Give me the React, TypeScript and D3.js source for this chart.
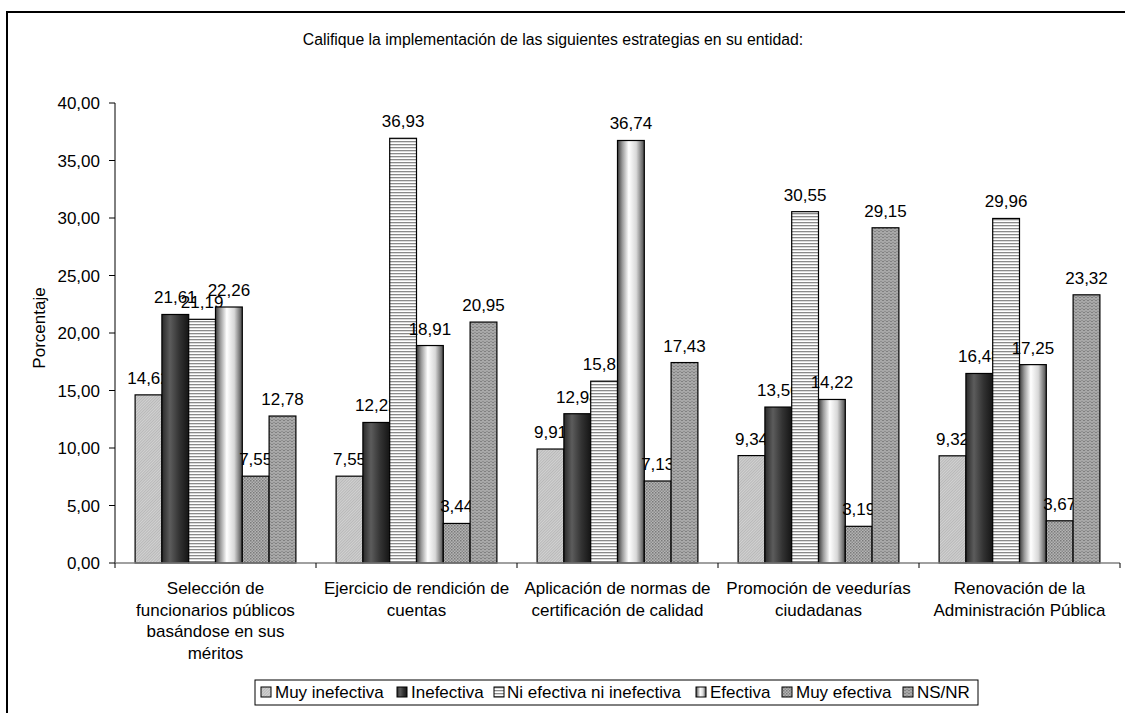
import React from "react";
import * as d3 from "d3";

const title = "Califique la implementación de las siguientes estrategias en su entidad:";
const yAxisLabel = "Porcentaje";
const categories = [
  ["Selección de", "funcionarios públicos", "basándose en sus", "méritos"],
  ["Ejercicio de rendición de", "cuentas"],
  ["Aplicación de normas de", "certificación de calidad"],
  ["Promoción de veedurías", "ciudadanas"],
  ["Renovación de la", "Administración Pública"],
];
const seriesNames = ["Muy inefectiva", "Inefectiva", "Ni efectiva ni inefectiva", "Efectiva", "Muy efectiva", "NS/NR"];
const muyInefectiva = [14.62, 7.55, 9.91, 9.34, 9.32];
const inefectiva = [21.61, 12.22, 12.98, 13.56, 16.48];
const niEfectiva = [21.19, 36.93, 15.81, 30.55, 29.96];
const efectiva = [22.26, 18.91, 36.74, 14.22, 17.25];
const muyEfectiva = [7.55, 3.44, 7.13, 3.19, 3.67];
const nsnr = [12.78, 20.95, 17.43, 29.15, 23.32];
const yTicks = [0, 5, 10, 15, 20, 25, 30, 35, 40];

const seriesValues = [muyInefectiva, inefectiva, niEfectiva, efectiva, muyEfectiva, nsnr];
const fills = ["url(#p0)", "url(#g1)", "url(#p2)", "url(#g3)", "url(#p4)", "url(#p5)"];

const fmt = (v: number) => d3.format(".2f")(v).replace(".", ",");
const FONT = "Arial, 'Liberation Sans', sans-serif";

export default function App() {
  const left = 115, right = 1120, top = 103, bottom = 563;
  const catKeys = categories.map((_, i) => String(i));
  const x0 = d3.scaleBand<string>().domain(catKeys).range([left, right]).paddingInner(0).paddingOuter(0);
  const x1 = d3.scaleBand<string>().domain(seriesNames).range([0, x0.bandwidth()]).paddingInner(0).paddingOuter(0.75);
  const y = d3.scaleLinear().domain([0, 40]).range([bottom, top]);

  const legendItems = [
    { icon: 261, text: 275 },
    { icon: 397, text: 411 },
    { icon: 494, text: 507 },
    { icon: 696, text: 710 },
    { icon: 782, text: 796 },
    { icon: 903, text: 917 },
  ];

  return (
    <svg width={1125} height={713} style={{ position: "absolute", left: 0, top: 0, background: "#fff" }} fontFamily={FONT}>
      <defs>
        <pattern id="p0" width={2} height={2} patternUnits="userSpaceOnUse" patternTransform="rotate(45)">
          <rect width={2} height={2} fill="#d2d2d2" />
          <rect width={0.8} height={2} fill="#b2b2b2" />
        </pattern>
        <linearGradient id="g1" x1="0" x2="1" y1="0" y2="0">
          <stop offset="0" stopColor="#2a2a2a" />
          <stop offset="0.3" stopColor="#5c5c5c" />
          <stop offset="0.65" stopColor="#333" />
          <stop offset="1" stopColor="#151515" />
        </linearGradient>
        <pattern id="p2" width={4} height={3} patternUnits="userSpaceOnUse">
          <rect width={4} height={3} fill="#ffffff" />
          <rect width={4} height={1.3} fill="#8a8a8a" />
        </pattern>
        <linearGradient id="g3" x1="0" x2="1" y1="0" y2="0">
          <stop offset="0" stopColor="#3a3a3a" />
          <stop offset="0.18" stopColor="#9a9a9a" />
          <stop offset="0.42" stopColor="#ffffff" />
          <stop offset="0.7" stopColor="#d8d8d8" />
          <stop offset="1" stopColor="#4a4a4a" />
        </linearGradient>
        <pattern id="p4" width={3} height={3} patternUnits="userSpaceOnUse">
          <rect width={3} height={3} fill="#b4b4b4" />
          <rect width={1.5} height={1.5} fill="#7a7a7a" />
          <rect x={1.5} y={1.5} width={1.5} height={1.5} fill="#8a8a8a" />
        </pattern>
        <pattern id="p5" width={4} height={3} patternUnits="userSpaceOnUse">
          <rect width={4} height={3} fill="#a8a8a8" />
          <rect width={2} height={1} fill="#808080" />
          <rect x={2} y={2} width={2} height={1} fill="#909090" />
        </pattern>
      </defs>

      <rect x={7} y={12} width={1125} height={713} fill="none" stroke="#000" strokeWidth={2} />

      <text x={553} y={45} fontSize={15.8} textAnchor="middle" fill="#000">{title}</text>

      {/* y axis */}
      <line x1={left} x2={left} y1={top} y2={bottom} stroke="#000" strokeWidth={1} />
      {yTicks.map((t) => (
        <g key={t}>
          <line x1={left - 6} x2={left} y1={y(t)} y2={y(t)} stroke="#000" />
          <text x={left - 15} y={y(t) + 6} fontSize={17} textAnchor="end" fill="#000">{fmt(t)}</text>
        </g>
      ))}
      <text transform={`translate(45,${(top + bottom) / 2 - 5}) rotate(-90)`} fontSize={17} textAnchor="middle" fill="#000">{yAxisLabel}</text>

      {/* bars */}
      {catKeys.map((ck, ci) => (
        <g key={ck} transform={`translate(${x0(ck)},0)`}>
          {seriesNames.map((s, si) => {
            const v = seriesValues[si][ci];
            const bx = x1(s)!;
            return (
              <g key={s}>
                <rect x={bx} y={y(v)} width={x1.bandwidth()} height={bottom - y(v)} fill={fills[si]} stroke="#000" strokeWidth={1.2} />
                <text x={bx + x1.bandwidth() / 2} y={y(v) - 11} fontSize={17} textAnchor="middle" fill="#000">{fmt(v)}</text>
              </g>
            );
          })}
        </g>
      ))}

      {/* x axis */}
      <line x1={left} x2={right} y1={bottom} y2={bottom} stroke="#808080" strokeWidth={1.5} />
      {[...catKeys.map((k) => x0(k)!), right].map((tx, i) => (
        <line key={i} x1={tx} x2={tx} y1={bottom} y2={bottom + 5} stroke="#000" />
      ))}
      {categories.map((lines, ci) => (
        <text key={ci} x={x0(String(ci))! + x0.bandwidth() / 2} fontSize={17} textAnchor="middle" fill="#000">
          {lines.map((ln, li) => (
            <tspan key={li} x={x0(String(ci))! + x0.bandwidth() / 2} y={594 + li * 21.5}>{ln}</tspan>
          ))}
        </text>
      ))}

      {/* legend */}
      <rect x={255} y={680} width={723} height={25} fill="#fff" stroke="#000" strokeWidth={1} />
      {seriesNames.map((s, si) => (
        <g key={s}>
          <rect x={legendItems[si].icon} y={687} width={10} height={10} fill={fills[si]} stroke="#000" strokeWidth={1} />
          <text x={legendItems[si].text} y={698} fontSize={17} fill="#000">{s}</text>
        </g>
      ))}
    </svg>
  );
}
